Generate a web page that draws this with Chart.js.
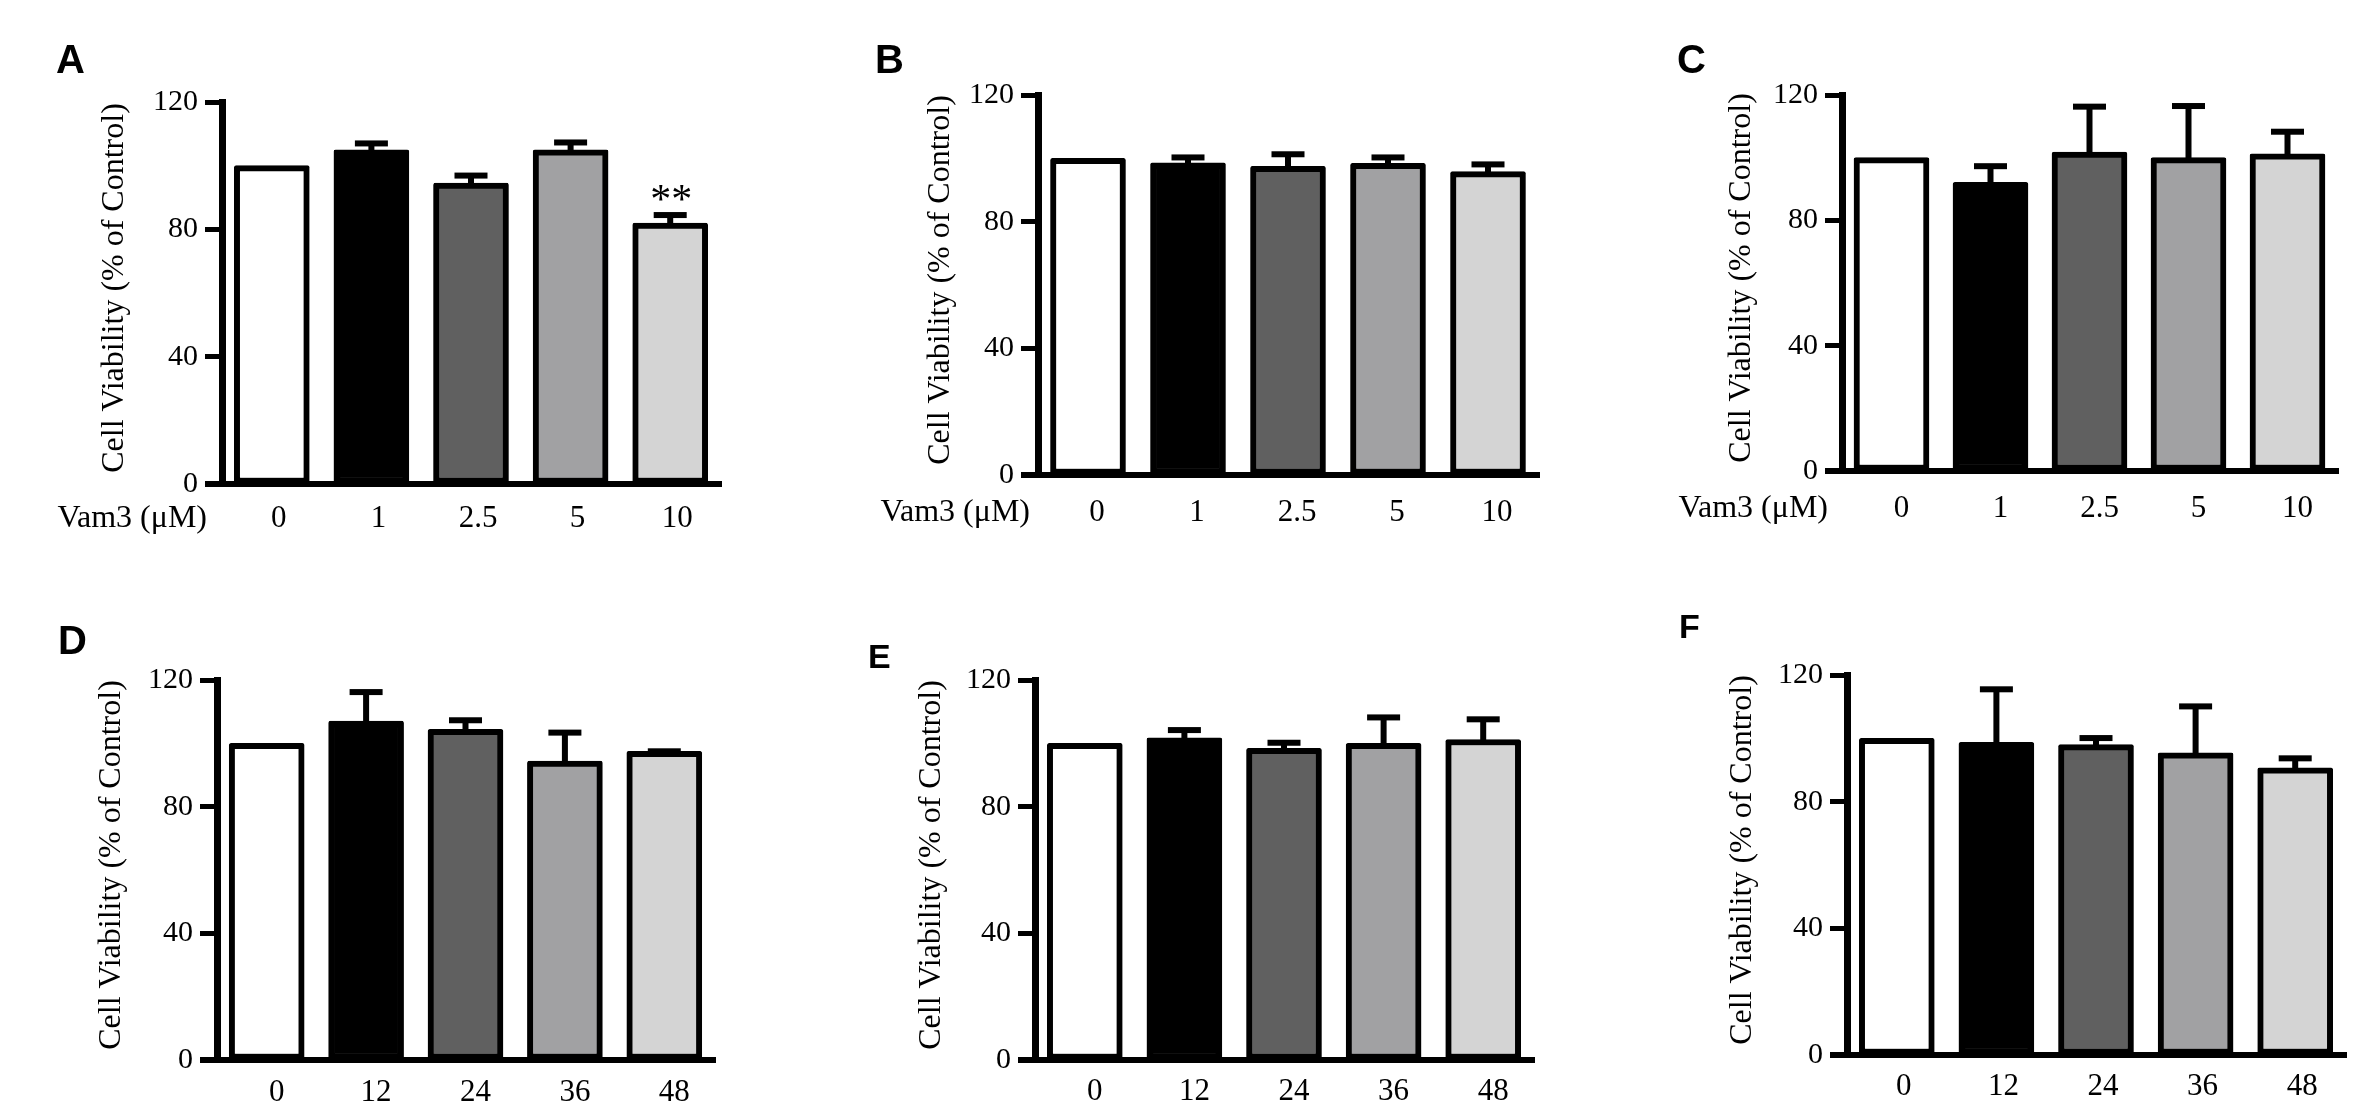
<!doctype html>
<html lang="en">
<head>
<meta charset="utf-8">
<title>Cell viability after Vam3 treatment</title>
<style>
  * { margin: 0; padding: 0; }
  body { background: #fff; }
  .figure { position: relative; width: 2362px; height: 1114px; overflow: hidden; background: #fff; }
  .figure canvas { position: absolute; left: 0; top: 0; }
</style>
</head>
<body>
<div class="figure" id="figure"></div>
<script src="https://cdn.jsdelivr.net/npm/chart.js/dist/chart.umd.min.js"></script>
<script>
// data
const doseLabels = ['0', '1', '2.5', '5', '10'];
const timeLabels = ['0', '12', '24', '36', '48'];
const yTicks = [0, 40, 80, 120];
const barColors = ['#ffffff', '#000000', '#606060', '#a1a1a3', '#d4d4d4'];

const meanA = [100, 105, 94.5, 105, 82];
const errA = [0, 2.3, 2.7, 2.6, 2.8];
const starsA = ['', '', '', '', '**'];

const meanB = [100, 98.6, 97.5, 98.4, 95.8];
const errB = [0, 2, 4.1, 2.2, 2.6];

const meanC = [100, 92.1, 101.8, 100, 101.2];
const errC = [0, 5.5, 14.8, 16.8, 7.4];

const meanD = [100, 107, 104.4, 94.4, 97.5];
const errD = [0, 9.5, 3.2, 9.3, 0.3];

const meanE = [100, 101.7, 98.4, 100, 101.2];
const errE = [0, 2.8, 2.1, 8.5, 6.7];

const meanF = [100, 98.7, 98, 95.4, 90.7];
const errF = [0, 17.1, 2.4, 15, 3.3];

const yTitle = 'Cell Viability (% of Control)';
const doseUnit = 'Vam3 (\u03bcM)';

// panel layout: box = [left, top(120), right, bottom(0)]
const panels = [
  { letter: 'A', labels: doseLabels, mean: meanA, err: errA, stars: starsA, unit: doseUnit,
    box: [222, 102, 720, 484], letterAt: [56, 73, 40], titleGap: 107, labelGap: 35, unitGap: 15, shift: 7 },
  { letter: 'B', labels: doseLabels, mean: meanB, err: errB, unit: doseUnit,
    box: [1038, 95, 1538, 475], letterAt: [875, 73, 40], titleGap: 97, labelGap: 38, unitGap: 8, shift: 9 },
  { letter: 'C', labels: doseLabels, mean: meanC, err: errC, unit: doseUnit,
    box: [1842, 95, 2337, 471], letterAt: [1677, 73, 40], titleGap: 100, labelGap: 38, unitGap: 14, shift: 10 },
  { letter: 'D', labels: timeLabels, mean: meanD, err: errD,
    box: [217, 680, 714, 1060], letterAt: [58, 654, 40], titleGap: 105, labelGap: 33, unitGap: 0, shift: 10 },
  { letter: 'E', labels: timeLabels, mean: meanE, err: errE,
    box: [1035, 680, 1533, 1060], letterAt: [868, 668, 34], titleGap: 103, labelGap: 32, unitGap: 0, shift: 10 },
  { letter: 'F', labels: timeLabels, mean: meanF, err: errF,
    box: [1847, 675, 2345, 1055], letterAt: [1679, 638, 34], titleGap: 104, labelGap: 32, unitGap: 0, shift: 7 }
];

const W = 2362, H = 1114;
const axisW = 140;   // fixed y axis box width
const axisH = 70;    // fixed x axis box height
const serif = "'Liberation Serif', 'Times New Roman', serif";

// error bars, stars, x axis line, axis titles, panel letter
const panelExtras = {
  id: 'panelExtras',
  afterDatasetsDraw(chart, args, opts) {
    const { ctx, scales: { y } } = chart;
    const meta = chart.getDatasetMeta(0);
    ctx.save();
    ctx.fillStyle = '#000';
    meta.data.forEach((bar, i) => {
      const e = opts.err[i];
      if (e > 0) {
        const top = y.getPixelForValue(opts.mean[i] + e);
        ctx.fillRect(bar.x - 3, top, 6, bar.y - top + 3);
        ctx.fillRect(bar.x - 16.5, top - 2, 33, 6);
      }
      const s = opts.stars ? opts.stars[i] : '';
      if (s) {
        const top = y.getPixelForValue(opts.mean[i] + e);
        ctx.font = '42px ' + serif;
        ctx.textAlign = 'center';
        ctx.textBaseline = 'alphabetic';
        ctx.fillText(s, bar.x + 1, top - 1);
      }
    });
    ctx.restore();
  },
  afterDraw(chart, args, opts) {
    const { ctx, chartArea, scales: { y } } = chart;
    const y0 = y.getPixelForValue(0);
    ctx.save();
    ctx.fillStyle = '#000';
    ctx.fillRect(chartArea.left - 17, y0 - 3, chartArea.right - chartArea.left + 19, 6);

    // y axis title
    ctx.save();
    ctx.translate(chartArea.left - opts.titleGap, (chartArea.top + chartArea.bottom) / 2 - 5);
    ctx.rotate(-Math.PI / 2);
    ctx.font = '32px ' + serif;
    ctx.textAlign = 'center';
    ctx.textBaseline = 'middle';
    ctx.fillText(yTitle, 0, 0);
    ctx.restore();

    if (opts.unit) {
      ctx.font = '32px ' + serif;
      ctx.textAlign = 'right';
      ctx.textBaseline = 'middle';
      ctx.fillText(opts.unit, chartArea.left - opts.unitGap, y0 + opts.labelGap);
    }
    const [lx, ly, ls] = opts.letterAt;
    ctx.font = 'bold ' + ls + "px 'Liberation Sans', Arial, sans-serif";
    ctx.textAlign = 'left';
    ctx.textBaseline = 'alphabetic';
    ctx.fillText(opts.letter, lx, ly);
    ctx.restore();
  }
};

const figure = document.getElementById('figure');

panels.forEach(p => {
  const canvas = document.createElement('canvas');
  canvas.width = W;
  canvas.height = H;
  canvas.style.width = W + 'px';
  canvas.style.height = H + 'px';
  figure.appendChild(canvas);

  const [left, top, right, bottom] = p.box;

  new Chart(canvas, {
    type: 'bar',
    data: {
      labels: p.labels,
      datasets: [{
        data: p.mean,
        backgroundColor: barColors,
        borderColor: '#000',
        borderWidth: 6,
        borderSkipped: false,
        borderRadius: 2,
        barThickness: 75
      }]
    },
    options: {
      responsive: false,
      animation: false,
      devicePixelRatio: 1,
      events: [],
      layout: {
        padding: { left: left - axisW, top: top, right: W - right, bottom: H - bottom - axisH }
      },
      plugins: {
        legend: { display: false },
        tooltip: { enabled: false },
        panelExtras: p
      },
      scales: {
        x: {
          type: 'category',
          offset: true,
          grid: { display: false, drawTicks: false },
          border: { display: false },
          ticks: {
            color: '#000',
            font: { family: serif, size: 31, lineHeight: 1 },
            padding: p.labelGap - 15.5,
            labelOffset: p.shift,
            maxRotation: 0,
            autoSkip: false
          },
          afterFit(s) { s.height = axisH; }
        },
        y: {
          min: 0,
          max: 120,
          afterBuildTicks(s) { s.ticks = yTicks.map(v => ({ value: v })); },
          grid: { drawOnChartArea: false, drawTicks: true, tickLength: 17, tickWidth: 5, tickColor: '#000' },
          border: { display: true, width: 7, color: '#000' },
          ticks: {
            color: '#000',
            font: { family: serif, size: 30 },
            padding: 7
          },
          title: { display: false },
          afterFit(s) { s.width = axisW; }
        }
      }
    },
    plugins: [panelExtras]
  });
});
</script>
</body>
</html>
